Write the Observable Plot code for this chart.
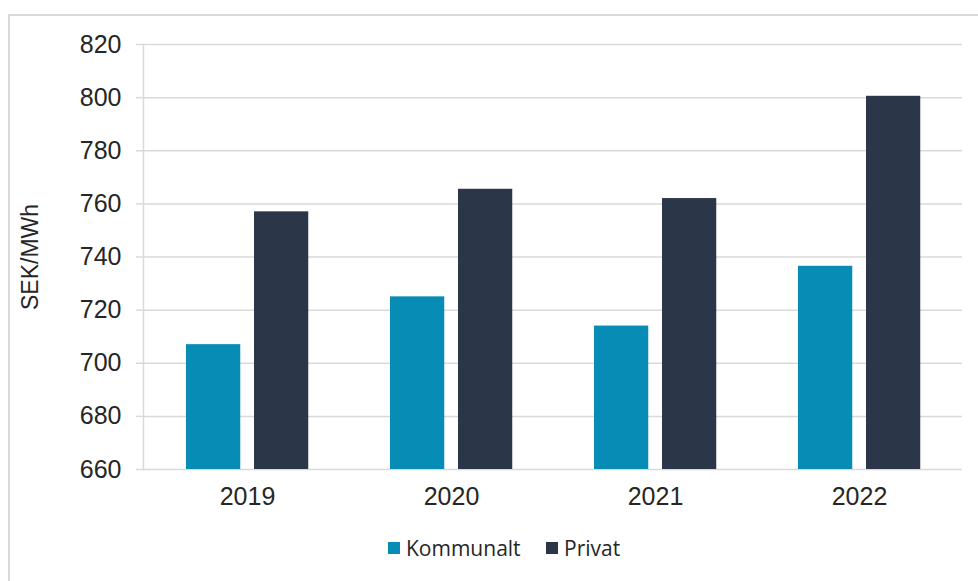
<!DOCTYPE html>
<html>
<head>
<meta charset="utf-8">
<script src="https://cdn.jsdelivr.net/npm/d3@7"></script>
<script src="https://cdn.jsdelivr.net/npm/@observablehq/plot@0.6"></script>
<style>
  html, body { margin: 0; padding: 0; background: #fff; }
  #wrap { position: relative; width: 978px; height: 581px; overflow: hidden; }
  #box { position: absolute; left: 8px; top: 14px; width: 1000px; height: 600px; border: 2px solid #d9d9d9; box-sizing: border-box; }
  #chart { position: absolute; left: 0; top: 0; }
  #legend { position: absolute; left: 0; top: 520px; width: 978px; height: 61px; font-family: "Open Sans", sans-serif; font-size: 21px; color: #262626; }
  .item { position: absolute; top: 14px; display: flex; align-items: center; white-space: nowrap; }
  .sw { width: 12px; height: 12px; margin-right: 6px; }
</style>
</head>
<body>
<div id="wrap">
  <div id="box"></div>
  <div id="chart"></div>
  <div id="legend"></div>
</div>
<script>
const years = ["2019", "2020", "2021", "2022"];
const seriesNames = ["Kommunalt", "Privat"];
const kommunalt = [707, 725, 714, 736.5];
const privat = [757, 765.5, 762, 800.5];
const seriesColors = ["#078cb6", "#2b3648"];
const yTicks = [660, 680, 700, 720, 740, 760, 780, 800, 820];
const yLabel = "SEK/MWh";

const data = years.flatMap((year, i) => [
  {year, series: seriesNames[0], value: kommunalt[i]},
  {year, series: seriesNames[1], value: privat[i]}
]);

const font = "'Liberation Sans', Arial, sans-serif";

const plot = Plot.plot({
  width: 978,
  height: 520,
  marginLeft: 143,
  marginRight: 16,
  marginTop: 44,
  marginBottom: 51,
  style: {fontFamily: font, color: "#262626", background: "transparent", overflow: "visible"},
  x: {domain: years, padding: 0, label: null},
  y: {domain: [yTicks[0], yTicks[yTicks.length - 1]], label: yLabel},
  color: {domain: seriesNames, range: seriesColors},
  marks: [
    Plot.gridY({ticks: yTicks, stroke: "#d9d9d9", strokeOpacity: 1, strokeWidth: 1.5}),
    Plot.frame({anchor: "left", stroke: "#d9d9d9", strokeWidth: 1.5}),
    Plot.barY(data.filter(d => d.series === seriesNames[0]), {
      x: "year", y1: yTicks[0], y2: "value", fill: "series", insetLeft: 41, insetRight: 108.75
    }),
    Plot.barY(data.filter(d => d.series === seriesNames[1]), {
      x: "year", y1: yTicks[0], y2: "value", fill: "series", insetLeft: 109, insetRight: 40.75
    }),
    Plot.axisY({
      ticks: yTicks, tickSize: 7, tickPadding: 15, stroke: "#d9d9d9", strokeWidth: 1.5,
      fontSize: 25, fill: "#262626", label: null
    }),
    Plot.axisY({
      ticks: [], tickSize: 0, fontSize: 23, fill: "#262626",
      label: yLabel, labelAnchor: "center", labelArrow: "none", labelOffset: 122
    }),
    Plot.axisX({tickSize: 0, tickPadding: 18, fontSize: 25, fill: "#262626", label: null})
  ]
});
document.getElementById("chart").appendChild(plot);

const legend = document.getElementById("legend");
const positions = [388, 546];
seriesNames.forEach((name, i) => {
  const item = document.createElement("div");
  item.className = "item";
  item.style.left = positions[i] + "px";
  const sw = document.createElement("span");
  sw.className = "sw";
  sw.style.background = seriesColors[i];
  const label = document.createElement("span");
  label.textContent = name;
  item.appendChild(sw);
  item.appendChild(label);
  legend.appendChild(item);
});
</script>
</body>
</html>
